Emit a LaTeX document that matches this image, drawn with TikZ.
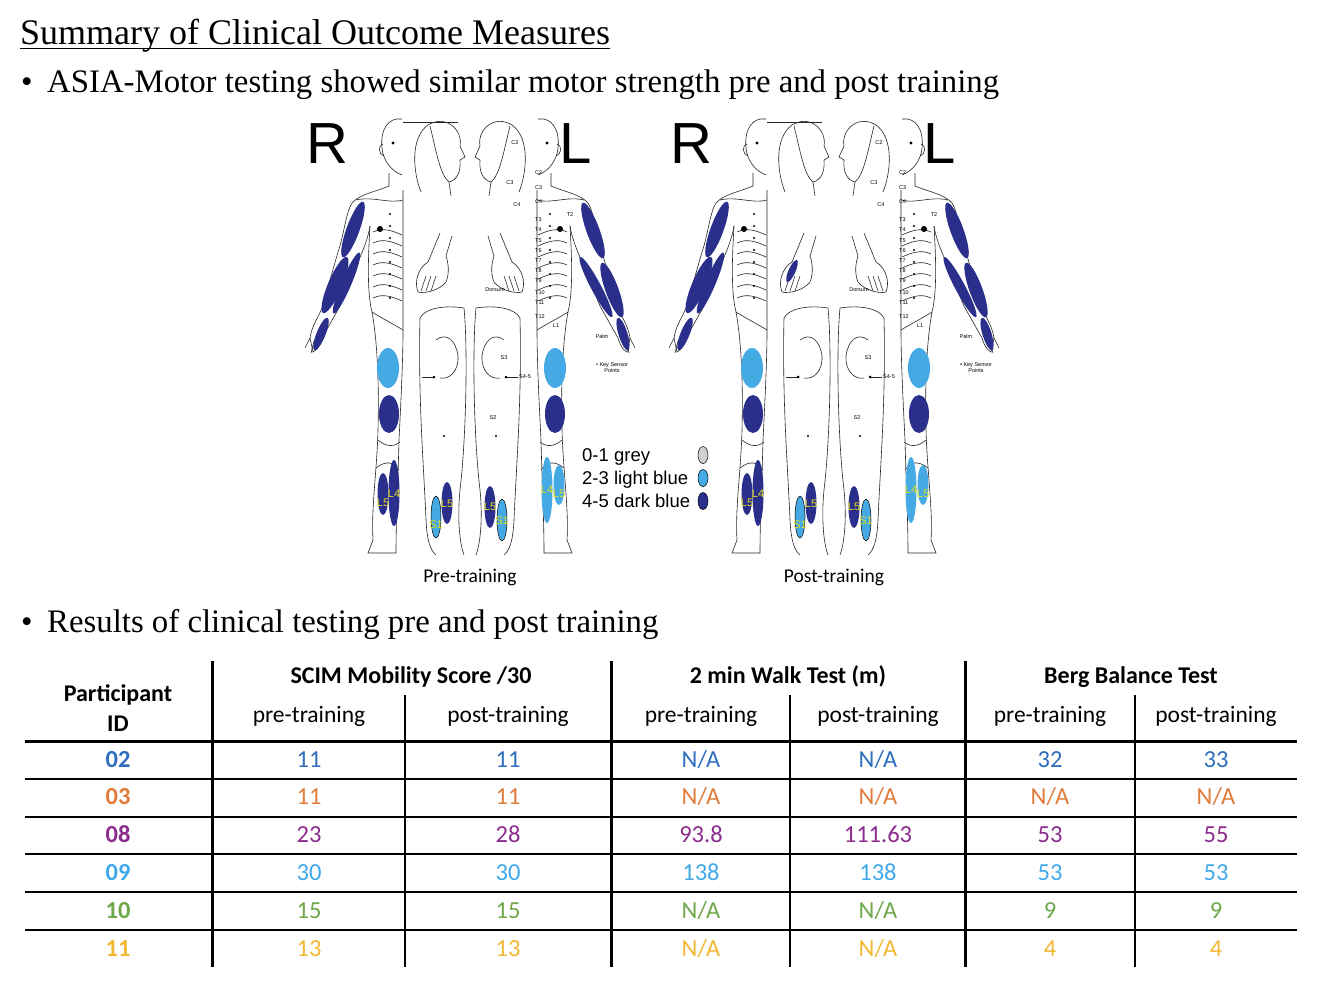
\documentclass[tikz,border=0pt]{standalone}
\usepackage{fontspec}
\setmainfont{Liberation Serif}
\newfontfamily\tabfont{Carlito}
\newfontfamily\chartfont{Liberation Sans}

\definecolor{dkblue}{RGB}{43,47,140}
\definecolor{ltblue}{RGB}{69,169,228}
\definecolor{greyblob}{RGB}{208,208,208}
\definecolor{segyellow}{RGB}{228,222,30}
\definecolor{id02}{RGB}{47,110,191}
\definecolor{id03}{RGB}{224,123,58}
\definecolor{id08}{RGB}{139,44,142}
\definecolor{id09}{RGB}{65,168,234}
\definecolor{id10}{RGB}{111,168,74}
\definecolor{id11}{RGB}{243,184,51}

\def\na{N/A}
\def\rowh{37.8}

\newcommand\blob[6]{\fill[#1, rotate around={#6:(#2,#3)}] (#2,#3) ellipse [x radius=#4, y radius=#5];}

% one side of the chart, mirrored for the other side
\def\halfbody{%
  \draw[body] (402,119) .. controls (388,117) and (380,130) .. (382,148)
    .. controls (383,160) and (391,171) .. (402,175);
  \draw[body] (383,144) .. controls (378,145) and (378,154) .. (384,156);
  \fill (393,143) circle (1.6);
  \draw[body] (389,173) -- (389,186) .. controls (375,192) and (360,194) .. (352,203)
    .. controls (346,212) and (344,235) .. (338,252) -- (322,308)
    .. controls (318,318) and (312,325) .. (310,338) -- (313,352)
    .. controls (317,350) and (320,345) .. (322,338) -- (340,306) -- (358,262)
    .. controls (364,248) and (368,238) .. (370,226);
  \draw[body] (310,338) -- (305,348) (314,341) -- (311,353);
  \draw[body] (370,226) .. controls (368,260) and (367,292) .. (372,312)
    .. controls (378,345) and (379,390) .. (378,430)
    .. controls (377,470) and (371,510) .. (373,540) -- (368,553) -- (396,553)
    .. controls (396,520) and (398,480) .. (399,440)
    .. controls (401,400) and (403,360) .. (403,330) -- (403,190);
  \draw[body] (356,200) .. controls (372,196) and (390,204) .. (403,200);
  \foreach \y in {232,243,...,298}
    \draw[body] (373,\y) .. controls (383,\y-5) and (393,\y-1) .. (402,\y+3);
  \draw[body] (372,312) .. controls (385,320) and (395,325) .. (403,330);
  \draw[body] (378,440) .. controls (386,447) and (394,447) .. (400,442);
  \draw[body] (376,468) .. controls (386,460) and (394,462) .. (399,470);
  \foreach \y in {214,226,...,306} \fill (390,\y) circle (1.2);
  \fill (380,229) circle (3);
  % head seen from the side
  \draw[body] (421,192) .. controls (413,172) and (410,138) .. (428,125)
    .. controls (446,114) and (463,130) .. (460,146) -- (465,157) -- (460,160)
    .. controls (461,172) and (457,180) .. (449,182) -- (451,196);
  \draw[body] (430,126) .. controls (436,150) and (440,175) .. (449,182);
  % hand
  \draw[body] (440,233) -- (428,262) .. controls (418,268) and (414,282) .. (418,292)
    .. controls (425,294) and (440,290) .. (446,282)
    .. controls (450,272) and (448,262) .. (446,256) -- (452,236);
  \foreach \a in {0,1,2} \draw[body] (421+5*\a,291) -- (426+5*\a,276);
  % leg seen from behind
  \draw[body] (420,318) .. controls (425,308) and (445,305) .. (464,308);
  \draw[body] (420,318) .. controls (418,400) and (424,470) .. (426,520)
    .. controls (427,540) and (430,550) .. (436,555);
  \draw[body] (464,308) .. controls (468,350) and (466,440) .. (460,490)
    .. controls (457,520) and (460,545) .. (464,555);
  \draw[body] (436,340) .. controls (446,332) and (456,340) .. (458,356)
    .. controls (459,370) and (450,380) .. (440,378);
  \draw[body] (422,377) -- (434,377);
  \fill (434,377) circle (1.5);
  \fill (444,436) circle (1.2);
}

\tikzset{
  body/.style={line width=0.6pt, draw=black!85},
  dk/.style={fill=dkblue},
  lt/.style={fill=ltblue},
  ltline/.style={fill=ltblue, draw=black, line width=0.5pt},
  gyline/.style={fill=greyblob, draw=black, line width=0.5pt},
  tiny/.style={font=\chartfont\fontsize{5.5}{6}\selectfont, inner sep=0pt},
  seg/.style={font=\chartfont\fontsize{11}{11}\selectfont, text=segyellow, inner sep=0pt},
  big/.style={font=\fontsize{36}{36}\selectfont, inner sep=0pt, anchor=base west},
  bullet/.style={font=\fontsize{32.8}{33}\selectfont, inner sep=0pt, anchor=base west},
  head/.style={font=\tabfont\bfseries\fontsize{24}{24}\selectfont, inner sep=0pt, anchor=base},
  sub/.style={font=\tabfont\fontsize{23.5}{24}\selectfont, inner sep=0pt, anchor=base},
  cell/.style={font=\tabfont\fontsize{24.5}{25}\selectfont, inner sep=0pt, anchor=base},
  thick rule/.style={line width=3pt},
  thin rule/.style={line width=1.5pt}
}

\begin{document}
\begin{tikzpicture}[x=1pt, y=-1pt]
  \useasboundingbox (0,0) rectangle (1324,1002);
  \fill[white] (0,0) rectangle (1324,1002);

  % title and bullets
  \node[big] (title) at (20,44) {Summary of Clinical Outcome Measures};
  \draw[line width=1.8pt] ([yshift=-4.5pt]title.base west) -- ([yshift=-4.5pt]title.base east);
  \node[bullet] (dot1) at (21,92) {•};
  \node[bullet] (bul1) at (47,92) {ASIA-Motor testing showed similar motor strength pre and post training};
  \node[bullet] (dot2) at (21,632) {•};
  \node[bullet] (bul2) at (47,632) {Results of clinical testing pre and post training};

  % body charts
  \foreach \dx/\cap/\nm in {0/Pre-training/pre, 364/Post-training/post} {
    \begin{scope}[xshift=\dx]
      \halfbody
      \begin{scope}[xshift=940, xscale=-1]
        \halfbody
      \end{scope}
      \draw[body] (403,122) -- (458,122);
      % graded muscles
      \blob{dk}{353}{229.5}{6.5}{29.5}{-20}
      \blob{dk}{335}{285}{7}{30.5}{-23}
      \blob{dk}{346.5}{283}{5}{33}{-23}
      \blob{dk}{321}{334}{4.5}{17.5}{-22}
      \blob{dk}{593}{230.5}{6.5}{29.5}{20}
      \blob{dk}{596}{287}{5}{34}{28}
      \blob{dk}{612}{290}{6.5}{29}{20}
      \blob{dk}{623}{334}{4.5}{17}{17}
      \blob{lt}{388}{368}{11}{20}{0}
      \blob{dk}{389}{414}{10}{19}{0}
      \blob{dk}{383}{494}{5.5}{21}{0}
      \blob{dk}{394}{493}{5.5}{33}{0}
      \blob{dk}{447}{503}{5.5}{21}{0}
      \blob{ltline}{436}{517}{5}{21}{0}
      \blob{dk}{490}{507}{5.5}{21}{0}
      \blob{ltline}{502}{520}{5}{21}{0}
      \blob{lt}{555}{368}{11}{20}{0}
      \blob{dk}{555}{414}{10}{19}{0}
      \blob{lt}{559}{485}{5.5}{20}{0}
      \blob{lt}{547}{490}{5.5}{33}{0}
      \foreach \t/\x/\y [count=\k] in {L5/383/503, L4/394/494, L5/447/504, S1/436/525,
          L5/490/507, S1/502/521, L4/547/490, L5/559/494}
        \node[seg] (seg\nm\k) at (\x,\y) {\t};
      % dermatome labels
      \foreach \t/\y in {C2/173, C3/188, C4/202, T3/220, T4/230, T5/241, T6/251, T7/261,
          T8/271, T9/281, T10/293, T11/303, T12/317}
        \node[tiny, anchor=west] (lab\nm\t) at (535,\y) {\t};
      \node[tiny] (t2\nm) at (570,215) {T2};
      \node[tiny] (l1\nm) at (556,326) {L1};
      \node[tiny] (hc2\nm) at (515,143) {C2};
      \node[tiny] (hc3\nm) at (510,183) {C3};
      \node[tiny] (hc4\nm) at (517,205) {C4};
      \node[tiny] (s3\nm) at (504,358) {S3};
      \node[tiny, anchor=west] (s45\nm) at (519,377) {S4-5};
      \node[tiny] (s2\nm) at (493,418) {S2};
      \node[tiny] (dorsum\nm) at (495,290) {Dorsum};
      \node[tiny] (palm\nm) at (602,337) {Palm};
      \node[tiny, align=center] (key\nm) at (612,368) {• Key Sensor\\Points};
      % side letters and caption
      \node[font=\chartfont\fontsize{58}{58}\selectfont, inner sep=0pt, anchor=base west] (R\nm) at (306,163) {R};
      \node[font=\chartfont\fontsize{58}{58}\selectfont, inner sep=0pt, anchor=base west] (L\nm) at (559,163) {L};
      \node[font=\tabfont\fontsize{19.5}{20}\selectfont, inner sep=0pt] (cap\nm) at (470,577) {\cap};
    \end{scope}
  }
  \blob{dk}{792}{271}{3.5}{12}{-24}

  % legend
  \foreach \t/\y [count=\k] in {0-1 grey/455, 2-3 light blue/478, 4-5 dark blue/501} {
    \node[font=\chartfont\fontsize{18.5}{18.5}\selectfont, inner sep=0pt, anchor=base west] (leg\k) at (582,\y+6.5) {\t};
  }
  \blob{gyline}{703}{455}{5}{8.5}{0}
  \blob{ltline}{703}{478}{5}{8.5}{0}
  \blob{dk, draw=black, line width=0.5pt}{703}{501}{5}{8.5}{0}

  % table rules
  \draw[thick rule] (25,741) -- (1297,741);
  \foreach \y in {779,817,854,892,930} \draw[thin rule] (25,\y) -- (1297,\y);
  \foreach \x in {212,611,965} \draw[thick rule] (\x,661) -- (\x,967);
  \foreach \x in {405,790,1135} \draw[thin rule] (\x,695) -- (\x,967);

  % table header
  \node[head] (hpart) at (118,701) {Participant};
  \node[head] (hid) at (118,731) {ID};
  \node[head] (hscim) at (411,683) {SCIM Mobility Score /30};
  \node[head] (hwalk) at (788,683) {2 min Walk Test (m)};
  \node[head] (hberg) at (1131,683) {Berg Balance Test};
  \foreach \x/\t [count=\k] in {309/pre-training, 508/post-training, 701/pre-training,
      878/post-training, 1050/pre-training, 1216/post-training}
    \node[sub] (sub\k) at (\x,722) {\t};

  % table body
  \foreach \id/\a/\b/\c/\d/\e/\f [count=\i] in {02/11/11/\na/\na/32/33, 03/11/11/\na/\na/\na/\na,
      08/23/28/93.8/111.63/53/55, 09/30/30/138/138/53/53, 10/15/15/\na/\na/9/9, 11/13/13/\na/\na/4/4} {
    \node[cell, font=\tabfont\bfseries\fontsize{24.5}{25}\selectfont, text=id\id] (id\i) at (118,767+\rowh*\i-\rowh) {\id};
    \foreach \v/\x [count=\j] in {\a/309, \b/508, \c/701, \d/878, \e/1050, \f/1216}
      \node[cell, text=id\id] (c\i-\j) at (\x,767+\rowh*\i-\rowh) {\v};
  }
\end{tikzpicture}
\end{document}
